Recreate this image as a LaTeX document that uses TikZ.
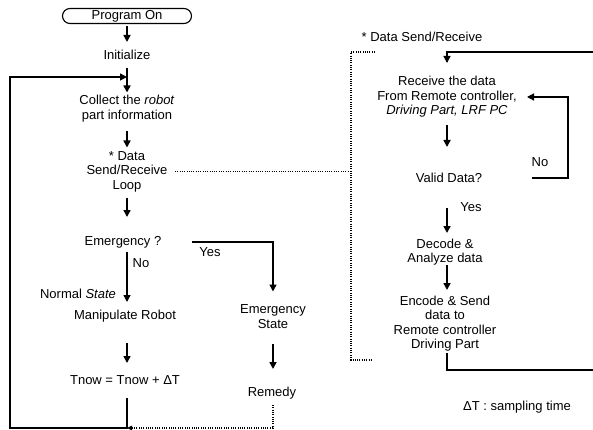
\documentclass[tikz,border=0pt]{standalone}
\usepackage{fontspec}
\setmainfont{Liberation Sans}
\usetikzlibrary{arrows.meta}

\begin{document}
\begin{tikzpicture}[x=1pt,y=-1pt,
  txt/.style={font=\fontsize{13}{14.5}\selectfont, inner sep=0pt, align=center},
  tip/.style={-{Triangle[length=7pt,width=7pt]}},
  flow/.style={tip, line width=1.6pt},
  wire/.style={line width=1.2pt},
  dots/.style={line width=1.2pt, dash pattern=on 1pt off 1.3pt},
]
\useasboundingbox (0,0) rectangle (593,430);

% ---- main loop (left) ----
\node[txt, draw, line width=1.1pt, rounded corners=7.5pt,
      minimum width=129pt, minimum height=15pt] (prog) at (127,16) {Program On};
\node[txt] (init)    at (127,55)    {Initialize};
\node[txt] (collect) at (127,108.5) {Collect the \textit{robot}\\part information};
\node[txt] (dsr)     at (127,171.5) {* Data\\Send/Receive\\Loop};
\node[txt] (emerg)   at (123,242)   {Emergency ?};
\node[txt] (normal)  at (78,294)    {Normal \textit{State}};
\node[txt] (manip)   at (125,316)   {Manipulate Robot};
\node[txt] (tnow)    at (125,380)   {Tnow = Tnow + ΔT};
\node[txt] (estate)  at (273,316.5) {Emergency\\State};
\node[txt] (remedy)  at (272,393)   {Remedy};
\node[txt] (yes1)    at (210,252)   {Yes};
\node[txt] (no1)     at (141,263)   {No};

% ---- data send/receive (right) ----
\node[txt] (title)  at (422,37)    {* Data Send/Receive};
\node[txt] (recv)   at (447,97)    {Receive the data\\From Remote controller,\\\textit{Driving Part, LRF PC}};
\node[txt] (valid)  at (449,178)   {Valid Data?};
\node[txt] (no2)    at (540,162)   {No};
\node[txt] (yes2)   at (471,207)   {Yes};
\node[txt] (decode) at (445,252)   {Decode \&\\Analyze data};
\node[txt] (encode) at (445,323.5) {Encode \& Send\\data to\\Remote controller\\Driving Part};
\node[txt] (dt)     at (517,407)   {ΔT : sampling time};

% loop corners
\coordinate (J)  at (127,77);
\coordinate (tl) at (10,77);
\coordinate (bl) at (10,428);
\coordinate (bm) at (127,428);
\coordinate (rt) at (593,52);
\coordinate (rb) at (593,370);
\coordinate (nx) at (568,137);

% left column arrows
\draw[flow, shorten <=10pt, shorten >=13pt] (prog.center) -- (init.center);
\draw[flow, shorten <=13pt, shorten >=16pt] (init.center) -- (collect.center);
\draw[flow, shorten <=23pt, shorten >=24pt] (collect.center) -- (dsr.center);
\draw[flow, shorten <=26pt, shorten >=25pt] (dsr.center) -- (dsr.center |- emerg.center);
\draw[flow, line width=1.3pt, shorten <=10pt, shorten >=14pt] (dsr.center |- emerg.center) -- (dsr.center |- manip.center);
\draw[flow, shorten <=27pt, shorten >=17pt] (dsr.center |- manip.center) -- (dsr.center |- tnow.center);

% return path of the main loop
\draw[wire, tip, line width=1.4pt, shorten <=18pt] (tnow.center -| J) -- (bm) -- (bl) -- (tl) -- (J);

% emergency branch
\draw[flow, line width=1.4pt, shorten >=25pt] ([xshift=69pt]emerg.center) -- (emerg.center -| estate.center) -- (estate.center);
\draw[flow, shorten <=27pt, shorten >=24pt] (estate.center) -- (estate.center |- remedy.center);
\draw[dots, -{Triangle[length=5pt,width=4.5pt]}, shorten <=12pt] (estate.center |- remedy.center) -- (estate.center |- bm) -- (bm);

% link to the send/receive routine
\draw[dots] ([xshift=48pt]dsr.center) -- (351,171.5);
\draw[dots] (375,52) -- (351,52) -- (351,360) -- (373,360);

% right routine
\draw[flow, line width=1.3pt, shorten >=34pt] (rt) -- (rt -| recv.center) -- (recv.center);
\draw[flow, shorten <=28pt, shorten >=31pt] (recv.center) -- (recv.center |- valid.center);
\draw[wire, tip] ([xshift=83pt]valid.center) -- (valid.center -| nx) -- (recv.center -| nx) -- ([xshift=80pt]recv.center);
\draw[flow, shorten <=30pt, shorten >=19pt] (recv.center |- valid.center) -- (recv.center |- decode.center);
\draw[flow, shorten <=13pt, shorten >=33.5pt] (recv.center |- decode.center) -- (recv.center |- encode.center);
\draw[wire, shorten <=29.5pt] (recv.center |- encode.center) -- (recv.center |- rb) -- (rb);
\end{tikzpicture}
\end{document}
